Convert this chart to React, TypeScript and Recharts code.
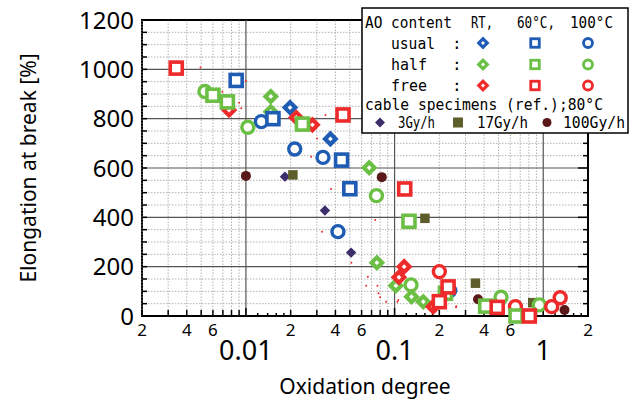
import { ScatterChart, Scatter, XAxis, YAxis, ReferenceLine, ReferenceArea } from 'recharts';

document.body.style.margin = '0';

const BLUE = '#1f5cb3';
const GREEN = '#6cbf45';
const RED = '#ee2a2a';
const PURPLE = '#3c2d6b';
const OLIVE = '#5e5e2c';
const BROWN = '#5a1818';

type Pt = { x: number; y: number };

// AO content: usual / half / free, aged at RT, 60°C, 100°C
const usualRT: Pt[] = [{ x: 0.0198, y: 845 }, { x: 0.037, y: 718 }];
const usual60: Pt[] = [{ x: 0.0086, y: 955 }, { x: 0.0152, y: 800 }, { x: 0.044, y: 632 }, { x: 0.05, y: 516 }];
const usual100: Pt[] = [{ x: 0.0127, y: 788 }, { x: 0.0213, y: 677 }, { x: 0.033, y: 643 }, { x: 0.0416, y: 342 }, { x: 0.235, y: 103 }];
const halfRT: Pt[] = [{ x: 0.0147, y: 828 }, { x: 0.0147, y: 890 }, { x: 0.0675, y: 601 }, { x: 0.076, y: 216 }, { x: 0.102, y: 123 }, { x: 0.13, y: 78 }, { x: 0.156, y: 58 }];
const half60: Pt[] = [{ x: 0.006, y: 895 }, { x: 0.0075, y: 868 }, { x: 0.024, y: 778 }, { x: 0.125, y: 384 }, { x: 0.22, y: 92 }, { x: 0.41, y: 40 }, { x: 0.656, y: 0 }];
const half100: Pt[] = [{ x: 0.0053, y: 910 }, { x: 0.0103, y: 765 }, { x: 0.0755, y: 488 }, { x: 0.129, y: 126 }, { x: 0.52, y: 76 }, { x: 0.94, y: 45 }];
const freeRT: Pt[] = [{ x: 0.0077, y: 835 }, { x: 0.0218, y: 805 }, { x: 0.028, y: 775 }, { x: 0.107, y: 157 }, { x: 0.116, y: 200 }, { x: 0.182, y: 38 }];
const free60: Pt[] = [{ x: 0.0034, y: 1005 }, { x: 0.045, y: 815 }, { x: 0.117, y: 515 }, { x: 0.2, y: 58 }, { x: 0.229, y: 118 }, { x: 0.49, y: 35 }, { x: 0.806, y: 0 }];
const free100: Pt[] = [{ x: 0.2, y: 180 }, { x: 0.65, y: 38 }, { x: 1.14, y: 38 }, { x: 1.3, y: 74 }];

// cable specimens (ref.), 80°C
const cable3: Pt[] = [{ x: 0.0183, y: 565 }, { x: 0.034, y: 428 }, { x: 0.051, y: 257 }, { x: 0.746, y: 4 }];
const cable17: Pt[] = [{ x: 0.0207, y: 572 }, { x: 0.16, y: 396 }, { x: 0.35, y: 133 }, { x: 0.85, y: 54 }];
const cable100: Pt[] = [{ x: 0.01, y: 568 }, { x: 0.082, y: 563 }, { x: 0.364, y: 68 }, { x: 1.39, y: 24 }];

// small red dots
const dots: Pt[] = [
  { x: 0.00495, y: 1007 }, { x: 0.00694, y: 909 }, { x: 0.009, y: 865 }, { x: 0.0093, y: 842 }, { x: 0.01, y: 954 },
  { x: 0.0343, y: 815 }, { x: 0.0301, y: 720 }, { x: 0.0275, y: 646 }, { x: 0.0374, y: 515 }, { x: 0.0325, y: 342 },
  { x: 0.0512, y: 216 }, { x: 0.0741, y: 389 }, { x: 0.0661, y: 159 }, { x: 0.0644, y: 123 }, { x: 0.0767, y: 123 },
  { x: 0.0779, y: 92 }, { x: 0.08, y: 76 }, { x: 0.0877, y: 58 }, { x: 0.1044, y: 58 }, { x: 0.106, y: 65 },
  { x: 0.259, y: 35 }, { x: 0.26, y: 40 },
];

const xTicks = [0.002, 0.004, 0.006, 0.01, 0.02, 0.04, 0.06, 0.1, 0.2, 0.4, 0.6, 1, 2];
const xTickLabels = ['2', '4', '6', '0.01', '2', '4', '6', '0.1', '2', '4', '6', '1', '2'];
const decades = [0.01, 0.1, 1];
const yTicks = [0, 200, 400, 600, 800, 1000, 1200];

const X_MIN = 0.002;
const X_MAX = 2;
const Y_MAX = 1200;
const FONT = '"Noto Sans", sans-serif';
const MONO = '"DejaVu Sans Mono", monospace';

// grid positions
const minorX: number[] = [];
const tinyX: number[] = [];
[0.001, 0.01, 0.1, 1].forEach(d => {
  for (let m = 2; m <= 9; m++) {
    const v = +(m * d).toPrecision(3);
    if (v > X_MIN - 1e-9 && v < X_MAX - 1e-9) minorX.push(v);
  }
  [1.2, 1.4, 1.6, 1.8].forEach(m => {
    const v = +(m * d).toPrecision(3);
    if (v > X_MIN && v < X_MAX) tinyX.push(v);
  });
});
const minorY: number[] = [];
for (let v = 50; v < Y_MAX; v += 50) if (v % 200 !== 0) minorY.push(v);

const diamond = (color: string, h = 8.3, inner = 2.4) => (p: any) => {
  const { cx, cy } = p;
  return (
    <g>
      <path d={`M${cx},${cy - h}L${cx + h},${cy}L${cx},${cy + h}L${cx - h},${cy}Z`} fill={color} />
      {inner > 0 && <path d={`M${cx},${cy - inner}L${cx + inner},${cy}L${cx},${cy + inner}L${cx - inner},${cy}Z`} fill="#fff" />}
    </g>
  );
};
const square = (color: string, s = 12, sw = 3.6) => (p: any) => (
  <rect x={p.cx - s / 2} y={p.cy - s / 2} width={s} height={s} fill="#fff" stroke={color} strokeWidth={sw} />
);
const ring = (color: string, r = 6, sw = 3.4) => (p: any) => (
  <circle cx={p.cx} cy={p.cy} r={r} fill="#fff" stroke={color} strokeWidth={sw} />
);
const solidSquare = (color: string, s = 9) => (p: any) => (
  <rect x={p.cx - s / 2} y={p.cy - s / 2} width={s} height={s} fill={color} />
);
const dot = (color: string, r = 5) => (p: any) => <circle cx={p.cx} cy={p.cy} r={r} fill={color} />;

const XTick = (props: any) => {
  const { x, y, payload, index } = props;
  const label = xTickLabels[index] ?? '';
  if (decades.includes(payload.value)) {
    return (
      <text x={x} y={y + 17} dy="0.71em" textAnchor="middle" fontSize={27} fontFamily={FONT} fill="#000">{label}</text>
    );
  }
  return (
    <text x={x} y={y} dy="0.71em" textAnchor="middle" fontSize={17} fontFamily={FONT} fill="#000">{label}</text>
  );
};

const LText = ({ x, y, w, children }: { x: number; y: number; w?: number; children: string }) => (
  <text x={x} y={y} fontSize={16} fontFamily={MONO} fill="#000"
    {...(w ? { textLength: w, lengthAdjust: 'spacingAndGlyphs' } : {})}>{children}</text>
);

const LegendBox = () => {
  const d = (c: string, cx: number, cy: number, h: number, inner: number) => diamond(c, h, inner)({ cx, cy });
  return (
    <svg width={639} height={404} style={{ position: 'absolute', left: 0, top: 0, pointerEvents: 'none' }}>
      <rect x={362} y={8} width={266} height={125} fill="#fff" stroke="#000" strokeWidth={1.5} />
      <LText x={365} y={28} w={87}>AO content</LText>
      <LText x={471} y={28} w={22}>RT,</LText>
      <LText x={517} y={28} w={38}>60°C,</LText>
      <LText x={570} y={28} w={43}>100°C</LText>
      {[
        { name: 'usual', c: BLUE, y: 43, w: 44 },
        { name: 'half', c: GREEN, y: 64.5, w: 36 },
        { name: 'free', c: RED, y: 85.5, w: 36 },
      ].map(r => (
        <g key={r.name}>
          <LText x={391} y={r.y + 5.5} w={r.w}>{r.name}</LText>
          <LText x={452} y={r.y + 5.5}>:</LText>
          {d(r.c, 483, r.y, 6.5, 2)}
          {square(r.c, 8.5, 2.8)({ cx: 535, cy: r.y })}
          {ring(r.c, 4.5, 2.8)({ cx: 588, cy: r.y })}
        </g>
      ))}
      <LText x={365} y={109.5} w={238}>cable specimens (ref.);80°C</LText>
      {d(PURPLE, 380, 122.5, 5, 0)}
      <LText x={398} y={128} w={37}>3Gy/h</LText>
      {solidSquare(OLIVE, 10)({ cx: 458, cy: 122.5 })}
      <LText x={477} y={128} w={51}>17Gy/h</LText>
      {dot(BROWN, 4.5)({ cx: 547, cy: 122.5 })}
      <LText x={563} y={128} w={62}>100Gy/h</LText>
    </svg>
  );
};

const dxPx = (px: number) => Math.pow(10, px / 148.7);
const dyPx = (px: number) => (px * 200) / 49.33;

export default function App() {
  return (
    <div style={{ position: 'relative', width: 639, height: 404, background: '#fff' }}>
      <ScatterChart width={639} height={404} margin={{ top: 20, right: 51, bottom: 5, left: 0 }}>
        <XAxis
          dataKey="x" type="number" scale="log" domain={[X_MIN, X_MAX]} ticks={xTicks} interval={0}
          tick={<XTick />} tickLine={false} axisLine={false} height={83}
          label={{ value: 'Oxidation degree', position: 'insideBottom', offset: 5, fontSize: 21, fontFamily: FONT, fill: '#000' }}
        />
        <YAxis
          dataKey="y" type="number" domain={[0, Y_MAX]} ticks={yTicks} interval={0} width={142}
          tickLine={false} axisLine={false} tick={{ fontSize: 24, fontFamily: FONT, fill: '#000' }}
          label={{ value: 'Elongation at break [%]', angle: -90, position: 'insideLeft', offset: 29, fontSize: 21, fontFamily: FONT, fill: '#000', style: { textAnchor: 'middle' } }}
        />
        {minorY.map(v => (
          <ReferenceLine key={`gy${v}`} y={v} stroke="#a0a0a0" strokeWidth={0.8} strokeDasharray="1.5 1.5" />
        ))}
        {minorX.map(v => (
          <ReferenceLine key={`gx${v}`} x={v} stroke="#a0a0a0" strokeWidth={0.8} strokeDasharray="1.5 1.5" />
        ))}
        {yTicks.slice(1, -1).map(v => (
          <ReferenceLine key={`sy${v}`} y={v} stroke="#555" strokeWidth={1.2} />
        ))}
        {decades.map(v => (
          <ReferenceLine key={`sx${v}`} x={v} stroke="#555" strokeWidth={1.2} />
        ))}
        {[...minorY, ...yTicks.slice(1, -1)].map(v => (
          <ReferenceLine key={`tl${v}`} segment={[{ x: X_MIN, y: v }, { x: X_MIN * dxPx(5), y: v }]} stroke="#000" strokeWidth={1.5} />
        ))}
        {[...minorY, ...yTicks.slice(1, -1)].map(v => (
          <ReferenceLine key={`tr${v}`} segment={[{ x: X_MAX / dxPx(v % 200 === 0 ? 10 : 5), y: v }, { x: X_MAX, y: v }]} stroke="#000" strokeWidth={1.5} />
        ))}
        {minorX.map(v => (
          <ReferenceLine key={`tb${v}`} segment={[{ x: v, y: 0 }, { x: v, y: dyPx(6) }]} stroke="#000" strokeWidth={1.5} />
        ))}
        {tinyX.map(v => (
          <ReferenceLine key={`tt${v}`} segment={[{ x: v, y: 0 }, { x: v, y: dyPx(3) }]} stroke="#000" strokeWidth={1.5} />
        ))}
        {decades.map(v => (
          <ReferenceLine key={`td${v}`} segment={[{ x: v, y: 0 }, { x: v, y: dyPx(8) }]} stroke="#000" strokeWidth={1.5} />
        ))}
        <ReferenceArea x1={X_MIN} x2={X_MAX} y1={0} y2={Y_MAX} fill="none" fillOpacity={0} stroke="#000" strokeWidth={2} />

        <Scatter data={dots} isAnimationActive={false} shape={dot(RED, 1)} />
        <Scatter data={cable3} isAnimationActive={false} shape={diamond(PURPLE, 5.2, 0)} />
        <Scatter data={cable17} isAnimationActive={false} shape={solidSquare(OLIVE, 9.5)} />
        <Scatter data={cable100} isAnimationActive={false} shape={dot(BROWN, 5)} />
        <Scatter data={usual100} isAnimationActive={false} shape={ring(BLUE)} />
        <Scatter data={half100} isAnimationActive={false} shape={ring(GREEN)} />
        <Scatter data={free100} isAnimationActive={false} shape={ring(RED)} />
        <Scatter data={usualRT} isAnimationActive={false} shape={diamond(BLUE)} />
        <Scatter data={halfRT} isAnimationActive={false} shape={diamond(GREEN)} />
        <Scatter data={freeRT} isAnimationActive={false} shape={diamond(RED)} />
        <Scatter data={usual60} isAnimationActive={false} shape={square(BLUE)} />
        <Scatter data={half60} isAnimationActive={false} shape={square(GREEN)} />
        <Scatter data={free60} isAnimationActive={false} shape={square(RED)} />
      </ScatterChart>
      <LegendBox />
    </div>
  );
}
